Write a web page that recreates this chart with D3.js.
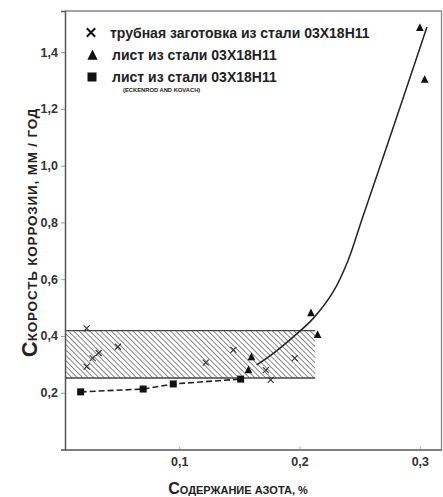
<!DOCTYPE html>
<html>
<head>
<meta charset="utf-8">
<script src="https://cdn.jsdelivr.net/npm/d3@7"></script>
<style>
  html, body { margin: 0; padding: 0; background: #fff; }
  svg { display: block; font-family: "Liberation Sans", Arial, sans-serif; }
  .tick-label { font-size: 12.5px; font-weight: bold; fill: #333; }
</style>
</head>
<body>
<svg width="443" height="497"></svg>
<script>
// Data (x = nitrogen %, y = corrosion rate mm/year)
const tubeCrosses = [
    [0.023, 0.427], [0.049, 0.362], [0.033, 0.340], [0.028, 0.322], [0.023, 0.292],
    [0.122, 0.306], [0.145, 0.351], [0.172, 0.280], [0.176, 0.245], [0.196, 0.322]
];
const sheetTriangles = [
    [0.300, 1.486], [0.304, 1.303], [0.2095, 0.481], [0.215, 0.404], [0.160, 0.326], [0.1575, 0.280]
];
const eckenrodSquares = [
    [0.018, 0.203], [0.070, 0.213], [0.095, 0.231], [0.151, 0.248]
];
const trendCurve = [
    [0.1644, 0.298], [0.1782, 0.339], [0.1948, 0.397], [0.2114, 0.462], [0.228, 0.556],
    [0.2405, 0.668], [0.2517, 0.809], [0.2735, 1.080], [0.3059, 1.489]
];
const scatterBand = { x0: 0.005, x1: 0.213, y0: 0.252, y1: 0.419 };
const xTicks = [0.1, 0.2, 0.3];
const yTicks = [0.2, 0.4, 0.6, 0.8, 1.0, 1.2, 1.4];
const legendLabels = [
    "трубная заготовка из стали 03Х18Н11",
    "лист из стали 03Х18Н11",
    "лист из стали 03Х18Н11"
];

const svg = d3.select("svg");
const frame = { left: 65, right: 441.5, top: 11, bottom: 449.5 };

const x = d3.scaleLinear().domain([0.005, 0.318]).range([frame.left, frame.right]);
const y = d3.scaleLinear().domain([0, 1.545]).range([frame.bottom, frame.top]);
const comma = d => d.toFixed(1).replace(".", ",");

// hatch pattern for the scatter band
const defs = svg.append("defs");
defs.append("pattern")
    .attr("id", "hatch")
    .attr("patternUnits", "userSpaceOnUse")
    .attr("width", 3.8).attr("height", 3.8)
    .attr("patternTransform", "rotate(-45)")
    .append("line")
    .attr("x1", 0).attr("y1", 0).attr("x2", 0).attr("y2", 3.8)
    .attr("stroke", "#555").attr("stroke-width", 1.4);

// frame: top and right lighter
svg.append("path")
    .attr("d", `M${frame.left},${frame.top}H${frame.right}V${frame.bottom}`)
    .attr("fill", "none").attr("stroke", "#888").attr("stroke-width", 1.3);

// hatched band
const band = svg.append("g");
band.append("rect")
    .attr("x", x(scatterBand.x0)).attr("y", y(scatterBand.y1))
    .attr("width", x(scatterBand.x1) - x(scatterBand.x0))
    .attr("height", y(scatterBand.y0) - y(scatterBand.y1))
    .attr("fill", "url(#hatch)");
[scatterBand.y0, scatterBand.y1].forEach(v => {
    band.append("line")
        .attr("x1", x(scatterBand.x0)).attr("x2", x(scatterBand.x1))
        .attr("y1", y(v)).attr("y2", y(v))
        .attr("stroke", "#444").attr("stroke-width", 1.4);
});

// axes
const yAxis = d3.axisLeft(y).tickValues(yTicks).tickSize(4).tickPadding(3).tickFormat(comma);
svg.append("g")
    .attr("transform", `translate(${frame.left},0)`)
    .call(yAxis)
    .call(g => g.select(".domain").attr("stroke", "#555").attr("stroke-width", 1.5))
    .call(g => g.selectAll(".tick line").attr("stroke", "#999"))
    .call(g => g.selectAll(".tick text").attr("class", "tick-label").attr("font-size", null).attr("font-family", null));

const xAxis = d3.axisBottom(x).tickValues(xTicks).tickSizeInner(-3).tickSizeOuter(0).tickPadding(8).tickFormat(comma);
svg.append("g")
    .attr("transform", `translate(0,${frame.bottom})`)
    .call(xAxis)
    .call(g => g.select(".domain").attr("stroke", "#555").attr("stroke-width", 1.5))
    .call(g => g.selectAll(".tick line").attr("stroke", "#aaa"))
    .call(g => g.selectAll(".tick text").attr("class", "tick-label").attr("font-size", null).attr("font-family", null));

// axis titles in small caps style
const yTitle = svg.append("text")
    .attr("transform", "translate(36.5,232.5) rotate(-90)")
    .attr("text-anchor", "middle")
    .attr("font-weight", "bold").attr("fill", "#222");
yTitle.append("tspan").attr("font-size", 22).text("С");
yTitle.append("tspan").attr("font-size", 13.5).attr("letter-spacing", 0.8).text("КОРОСТЬ КОРРОЗИИ, ММ / ГОД");

const xTitle = svg.append("text")
    .attr("x", 238).attr("y", 494)
    .attr("text-anchor", "middle")
    .attr("font-weight", "bold").attr("fill", "#222");
xTitle.append("tspan").attr("font-size", 16).text("С");
xTitle.append("tspan").attr("font-size", 11).text("ОДЕРЖАНИЕ АЗОТА, %");

// dashed line through Eckenrod & Kovach squares
svg.append("path")
    .datum(eckenrodSquares)
    .attr("d", d3.line().x(d => x(d[0])).y(d => y(d[1])))
    .attr("fill", "none").attr("stroke", "#222").attr("stroke-width", 1.6)
    .attr("stroke-dasharray", "6,3");

// solid trend curve
svg.append("path")
    .datum(trendCurve)
    .attr("d", d3.line().x(d => x(d[0])).y(d => y(d[1])).curve(d3.curveCatmullRom))
    .attr("fill", "none").attr("stroke", "#222").attr("stroke-width", 1.5);

// markers
const crossPath = s => `M${-s},${-s}L${s},${s}M${-s},${s}L${s},${-s}`;
const triPath = s => `M0,${-s}L${s * 0.85},${s * 0.7}L${-s * 0.85},${s * 0.7}Z`;

svg.append("g").selectAll("path")
    .data(tubeCrosses).join("path")
    .attr("transform", d => `translate(${x(d[0])},${y(d[1])})`)
    .attr("d", crossPath(3))
    .attr("stroke", "#333").attr("stroke-width", 1.1).attr("fill", "none");

svg.append("g").selectAll("path")
    .data(sheetTriangles).join("path")
    .attr("transform", d => `translate(${x(d[0])},${y(d[1])})`)
    .attr("d", triPath(4.5))
    .attr("fill", "#111");

svg.append("g").selectAll("rect")
    .data(eckenrodSquares).join("rect")
    .attr("x", d => x(d[0]) - 3.5).attr("y", d => y(d[1]) - 3.5)
    .attr("width", 7).attr("height", 7)
    .attr("fill", "#111");

// legend
const legend = svg.append("g").attr("font-weight", "bold").attr("fill", "#222");
const legendY = [32.5, 55, 77];
legend.append("path")
    .attr("transform", `translate(91,${legendY[0]})`)
    .attr("d", crossPath(4.2))
    .attr("stroke", "#111").attr("stroke-width", 2).attr("fill", "none");
legend.append("path")
    .attr("transform", `translate(92.5,${legendY[1] + 0.5})`)
    .attr("d", triPath(6))
    .attr("fill", "#111");
legend.append("rect")
    .attr("x", 87.5).attr("y", legendY[2] - 4.5)
    .attr("width", 9).attr("height", 9)
    .attr("fill", "#111");
legend.selectAll("text.item")
    .data(legendLabels).join("text")
    .attr("class", "item")
    .attr("x", (d, i) => i === 0 ? 110 : 112)
    .attr("y", (d, i) => legendY[i] + 5)
    .attr("font-size", 14)
    .text(d => d);
legend.append("text")
    .attr("x", 123).attr("y", 91.5)
    .attr("font-size", 5.8)
    .text("(ECKENROD AND KOVACH)");
</script>
</body>
</html>
